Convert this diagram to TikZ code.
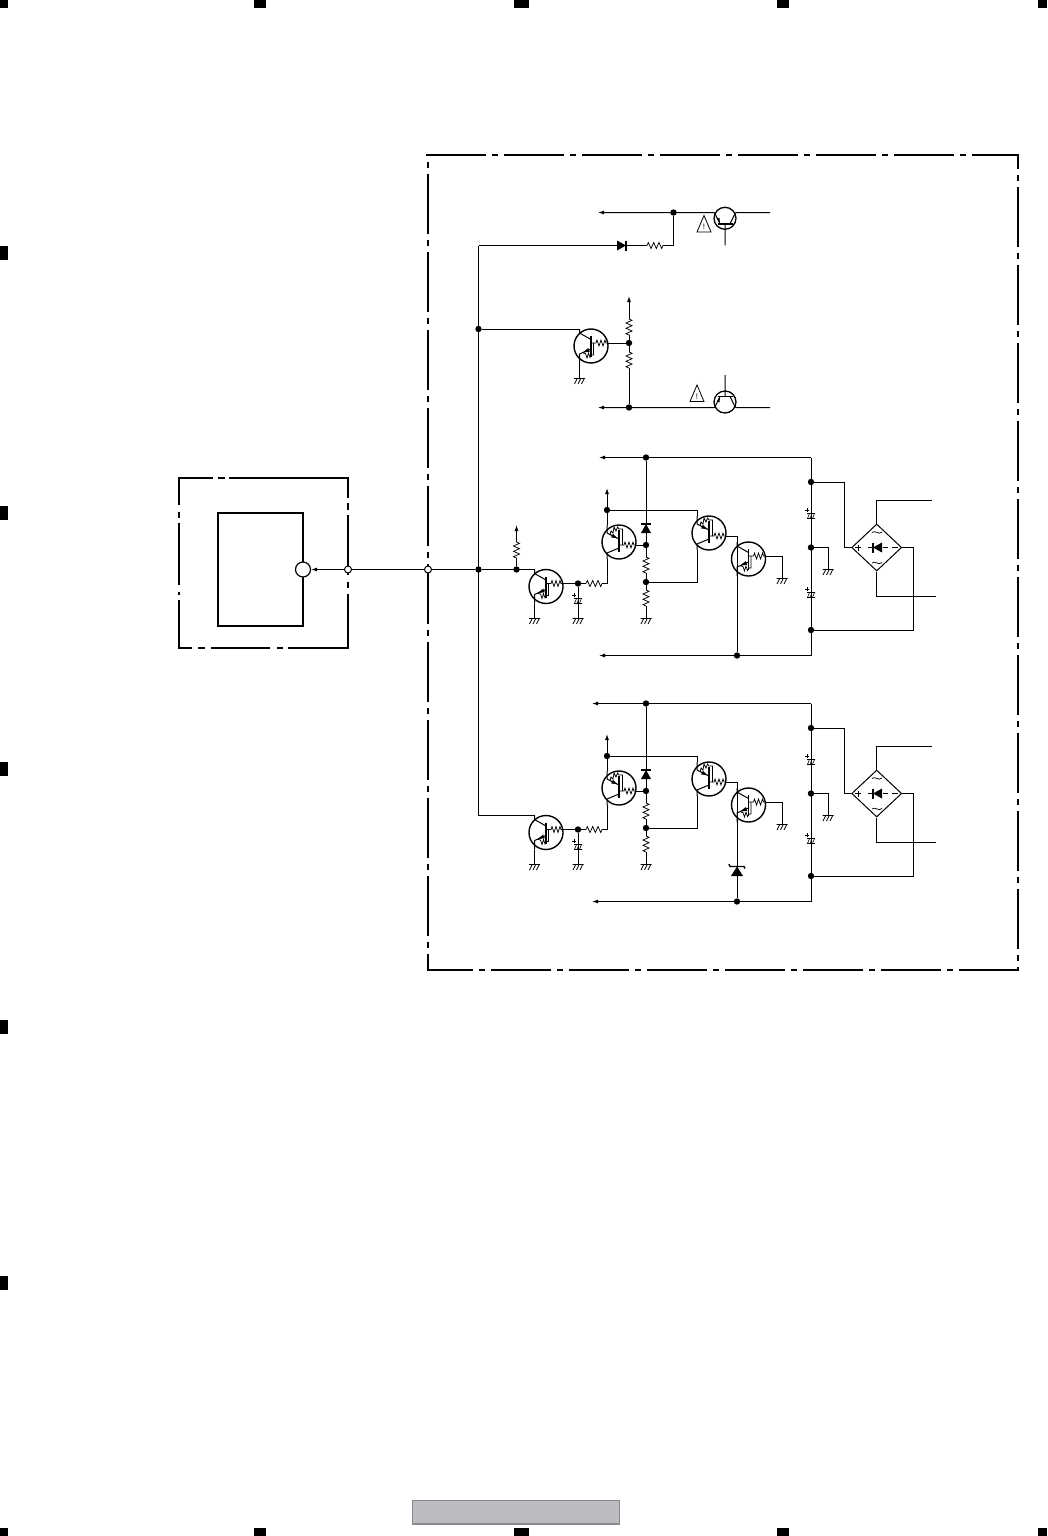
\documentclass[tikz,border=0pt]{standalone}
\usepackage{fontspec}
\setmainfont{Liberation Sans}
\usetikzlibrary{arrows.meta,shapes.geometric}
\tikzset{
  wire/.style={line width=1pt,line join=miter},
  thinw/.style={line width=.75pt,line join=miter},
  framew/.style={line width=2pt,line cap=butt},
  bigdash/.style={framew,dash pattern=on 60pt off 6pt on 6pt off 6pt},
  arr/.style={wire,-{Latex[length=6pt,width=4pt]}},
  dot/.style={circle,fill=black,draw=none,minimum size=6.4pt,inner sep=0pt},
  port/.style={circle,fill=white,draw=black,line width=1pt,minimum size=7pt,inner sep=0pt},
  bigport/.style={circle,fill=white,draw=black,line width=1.2pt,minimum size=15pt,inner sep=0pt},
  qcirc/.style={circle,fill=white,draw=black,line width=1.4pt,minimum size=34pt,inner sep=0pt},
  scirc/.style={circle,fill=white,draw=black,line width=1.3pt,minimum size=22pt,inner sep=0pt},
  bridge/.style={diamond,draw=black,line width=1pt,minimum width=50pt,minimum height=47pt,aspect=1.06,inner sep=0pt},
  warnmark/.style={font=\fontsize{8}{8}\selectfont,inner sep=0pt},
  ressym/.pic={\draw[thinw] (0,0)--(1.3,-3)--(4,3)--(6.7,-3)--(9.3,3)--(12,-3)--(14.7,3)--(16,0);},
  gndsym/.pic={\draw[thinw] (-5.5,0)--(5.5,0) (-2.5,0.5)--(-5,5.5) (1,0.5)--(-1.5,5.5) (4.5,0.5)--(2,5.5);},
  capsym/.pic={\draw[line width=.6pt] (-4,-2.5)--(4,-2.5) (-4,2.5)--(4,2.5) (-1.5,-2.5)--(-3.5,2.5) (1,-2.5)--(-1,2.5) (3.5,-2.5)--(1.5,2.5);
     \draw[line width=.6pt] (-6,-6)--(-2,-6) (-4,-8)--(-4,-4);},
  diodesym/.pic={\fill (0,-5)--(9,0)--(0,5)--cycle; \draw[line width=1.4pt] (9,-5)--(9,5);},
  zenersym/.pic={\fill (0,-6)--(9.5,0)--(0,6)--cycle; \draw[line width=1.4pt] (12,-8)--(9.5,-7)--(9.5,7)--(7.5,8);},
  dtrA/.pic={
    \node[qcirc] (-body) at (0,0) {};
    \coordinate (-c) at (-11.5,-17); \coordinate (-e) at (-11.5,17); \coordinate (-b) at (17,-3);
    \draw[wire] (-c)--(-11.5,-13)--(0,-6.5);
    \draw[wire] (0,3)--(-11.5,8)--(-e);
    \fill (-8.5,6.6)--(-2.8,2.1)--(-1.2,5.7)--cycle;
    \draw[line width=1.5pt] (0,-10)--(0,11);
    \draw[thinw] (0,-3)--(5,-3)--(6,-6)--(8,0)--(10,-6)--(12,0)--(14,-6)--(15,-3)--(-b);
    \draw[thinw] (2.5,-3)--(2.5,9)--(0.5,9)--(-1,11.5)--(-2.5,7)--(-4,12)--(-5.5,7.5)--(-8,7);
  },
  dtrB/.pic={
    \node[qcirc] (-body) at (0,0) {};
    \coordinate (-c) at (-12,-17); \coordinate (-e) at (-12,17); \coordinate (-b) at (17,3);
    \draw[wire] (-c)--(-12,-9)--(0,-3);
    \draw[wire] (0,6)--(-12,11)--(-e);
    \fill (-1.5,-3.7)--(-7.9,-4.6)--(-6.1,-8.2)--cycle;
    \draw[line width=1.5pt] (0,-12)--(0,10);
    \draw[thinw] (-9,-7)--(-8,-11)--(-6,-9)--(-5,-15)--(-3,-11)--(-1.5,-15)--(0,-13)--(3.5,-13)--(3.5,3);
    \draw[thinw] (0,3)--(5,3)--(6,0)--(8,6)--(10,0)--(12,6)--(14,0)--(15,3)--(-b);
  },
  bjtsym/.pic={
    \node[scirc] (-body) at (0,0) {};
    \coordinate (-l) at (-10.5,-5.7); \coordinate (-r) at (10.5,-5.7); \coordinate (-b) at (0,27);
    \draw[wire] (-l)--(-5,5.5) (-r)--(5,5.5) (0,5.5)--(-b);
    \draw[line width=1.5pt] (-7.5,5.5)--(7.5,5.5);
    \fill (-5,4.2)--(-8.2,0.6)--(-5.6,-0.6)--cycle;
  },
  warnsym/.pic={
    \draw[line width=.8pt,fill=white] (-7,8)--(0,-8.5)--(7,8)--cycle;
    \node[warnmark] at (0,3.2) {!};
  },
}
\newcommand\stage[1]{%
  \coordinate (tl) at (#1,457.5); \coordinate (tr) at (811,457.5);
  \coordinate (bl) at (#1,655.5); \coordinate (br) at (811,655.5);
  \draw[arr] (tr)--(tl);
  \draw[arr] (br)--(bl);
  \draw[wire] (tr)--(br);
  \node[dot] (tm) at (646,457.5) {};
  \node[dot] (bm) at (737,655.5) {};
  % transistors
  \pic (QA) at (546,586.5) {dtrA};
  \pic (QB) at (619,542) {dtrB};
  \pic (QC) at (709,533) {dtrB};
  \pic (QD) at (748.5,559) {dtrA};
  \node[dot] (jb) at (578,583.5) {};
  \node[dot] (jc) at (607,510) {};
  \node[dot] (jd) at (646,545) {};
  \node[dot] (je) at (646,582) {};
  % grounds
  \coordinate (ga) at (534.5,618.5); \coordinate (gb) at (578,618.5);
  \coordinate (gc) at (646,618.5); \coordinate (gd) at (782,578.5);
  \pic at (ga) {gndsym}; \pic at (gb) {gndsym}; \pic at (gc) {gndsym}; \pic at (gd) {gndsym};
  \draw[wire] (QA-e)--(ga);
  \draw[wire] (QA-b)--(jb);
  \draw[wire] (jb)--(gb);
  \pic at (578,601) {capsym};
  % base resistor of QB
  \coordinate (r1a) at (586,583.5); \coordinate (r1b) at (602,583.5);
  \pic at (r1a) {ressym};
  \draw[wire] (jb)--(r1a);
  \draw[wire] (r1b)-|(QB-e);
  % supply arrow
  \coordinate (vc) at (607,488);
  \draw[arr] (jc)--(vc);
  \draw[wire] (jc)--(QB-c);
  \draw[wire] (jc)-|(QC-c);
  % diode and divider
  \draw[wire] (tm)--(jd);
  \pic[rotate=90] at (646,533) {diodesym};
  \draw[wire] (QB-b)--(jd);
  \coordinate (r2a) at (646,557); \coordinate (r2b) at (646,573);
  \coordinate (r3a) at (646,590); \coordinate (r3b) at (646,606);
  \pic[rotate=-90] at (r2a) {ressym};
  \pic[rotate=-90] at (r3a) {ressym};
  \draw[wire] (jd)--(r2a);
  \draw[wire] (r2b)--(je);
  \draw[wire] (je)--(r3a);
  \draw[wire] (r3b)--(gc);
  \draw[wire] (je)-|(QC-e);
  % output pair
  \draw[wire] (QC-b)-|(bm);
  \draw[wire] (QD-b)-|(gd);
  % rectifier and filter
  \node[dot] (jt) at (811,482) {};
  \node[dot] (jm) at (811,547.5) {};
  \node[dot] (jl) at (811,630) {};
  \pic at (811,516) {capsym};
  \pic at (811,595) {capsym};
  \coordinate (gm) at (828,569.5);
  \pic at (gm) {gndsym};
  \draw[wire] (jm)-|(gm);
  \node[bridge] (br1) at (876.7,547.5) {};
  \coordinate (bw) at (844,547.5);
  \coordinate (be) at (913,547.5);
  \coordinate (ot) at (932,500.5);
  \coordinate (ob) at (936,596);
  \draw[wire] (jt)-|(bw)--(br1.west);
  \draw[wire] (br1.north)|-(ot);
  \draw[wire] (br1.south)|-(ob);
  \draw[wire] (br1.east)--(be)|-(jl);
  \pic[xscale=-1] at (882,547.5) {diodesym};
  \draw[thinw] (855,547.5)--(861,547.5) (858,544.5)--(858,550.5)
     (868,547.5)--(873,547.5) (883,547.5)--(888,547.5) (892,547.5)--(898,547.5);
  \draw[thinw] (872,532.5) .. controls (874.5,529.5) and (879,535.5) .. (882,532);
  \draw[thinw] (872,563) .. controls (874.5,560) and (879,566) .. (882,562.5);
  \coordinate (cin) at (478.5,569.5);
}
\begin{document}
\begin{tikzpicture}[x=1pt,y=-1pt]
\useasboundingbox (0,0) rectangle (1047,1536);
% registration marks
\foreach \a/\b in {0/8,254/266,514/529,777/789,1038/1047}{
  \fill (\a,0) rectangle (\b,8);
  \fill (\a,1528) rectangle (\b,1536);
}
\foreach \a/\b in {246/260,506/520,762/776,1020/1034,1276/1290}{
  \fill (0,\a) rectangle (8,\b);
}
% footer box
\node[draw=none,fill=none,inner sep=0pt,minimum size=0pt] (ftA) at (412.5,1500.5) {};
\node[draw=none,fill=none,inner sep=0pt,minimum size=0pt] (ftB) at (619.5,1524) {};
\draw[fill={rgb,255:red,187;green,188;blue,192},draw={rgb,255:red,136;green,137;blue,142},line width=1.3pt] (ftA) rectangle (ftB);
% large dash-dot frame
\coordinate (fa) at (427,155); \coordinate (fb) at (1018.5,155);
\coordinate (fc) at (1018.5,970.5); \coordinate (fd) at (427,970.5);
\draw[bigdash,dash phase=0pt] (426,155)--(fb);
\draw[bigdash,dash phase=59pt] (428,155)--(428,970.5);
\draw[bigdash,dash phase=46pt] (1018,155)--(1018,970.5);
\draw[bigdash,dash phase=14pt] (427,970)--(1019,970);
% small dash-dot frame
\foreach \xa/\ya/\xb/\yb in {
  179/478/213/478, 218/478/225/478, 229/478/349/478,
  179/648/192/648, 198/648/205/648, 211/648/270/648, 277/648/283/648, 288/648/349/648,
  179/477/179/505, 179/512/179/518, 179/523/179/585, 179/592/179/595, 179/600/179/649,
  348/477/348/498, 348/503/348/510, 348/515/348/575, 348/582/348/588, 348/594/348/649}{
  \draw[framew] (\xa,\ya)--(\xb,\yb);
}
% inner box
\draw[line width=2pt] (218,513) rectangle (303,626);
% input line
\node[bigport] (p0) at (303,569.5) {};
\node[port] (p1) at (348,569.5) {};
\node[port] (p2) at (428,569.5) {};
\node[dot] (ja) at (478.5,569.5) {};
\node[dot] (jq) at (478.5,329) {};
\coordinate (jtop) at (478.5,245.5);
\draw[arr] (p1)--(p0);
\draw[wire] (p1)--(p2);
\draw[wire] (p2)--(ja);
% top branch: diode, resistor, T1
\coordinate (d1a) at (617,245.5);
\coordinate (r5a) at (647,245.5); \coordinate (r5b) at (663,245.5);
\node[dot] (jr) at (673.5,212.5) {};
\coordinate (w1) at (598,212.5); \coordinate (e1) at (770,212.5);
\coordinate (w2) at (598,407.5); \coordinate (e2) at (770,407.5);
\draw[wire] (jtop)--(d1a);
\pic at (d1a) {diodesym};
\draw[wire] (d1a)--(r5a);
\pic at (r5a) {ressym};
\draw[wire] (r5b)-|(jr);
\pic (T1) at (725,218.3) {bjtsym};
\draw[arr] (T1-l)--(w1);
\draw[wire] (T1-r)--(e1);
\pic at (704,224) {warnsym};
% second branch: Q1 and T2
\pic (Q1) at (591,346) {dtrA};
\draw[wire] (jq)-|(Q1-c);
\coordinate (g1) at (579.5,378.5);
\pic at (g1) {gndsym};
\draw[wire] (Q1-e)--(g1);
\node[dot] (js) at (629,343) {};
\node[dot] (ju) at (629,407.5) {};
\draw[wire] (Q1-b)--(js);
\coordinate (r6a) at (629,335); \coordinate (r6b) at (629,319);
\coordinate (r7a) at (629,352); \coordinate (r7b) at (629,368);
\coordinate (v1) at (629,296);
\pic[rotate=90] at (r6a) {ressym};
\pic[rotate=-90] at (r7a) {ressym};
\draw[wire] (js)--(r6a);
\draw[arr] (r6b)--(v1);
\draw[wire] (js)--(r7a);
\draw[wire] (r7b)--(ju);
\pic[yscale=-1] (T2) at (725,402) {bjtsym};
\draw[arr] (T2-l)--(w2);
\draw[wire] (T2-r)--(e2);
\pic at (697,393.5) {warnsym};
% upper stage
\begin{scope}[name prefix=U-]
  \stage{599}
  \draw[wire] (ja)--(QA-c|-ja);
  \node[dot] (jv) at (516.5,569.5) {};
  \coordinate (r8a) at (516.5,558); \coordinate (r8b) at (516.5,542);
  \coordinate (v2) at (516.5,525);
  \pic[rotate=90] at (r8a) {ressym};
  \draw[wire] (jv)--(r8a);
  \draw[arr] (r8b)--(v2);
\end{scope}
% lower stage
\begin{scope}[shift={(0,246)},name prefix=L-]
  \stage{592}
  \draw[wire] (cin)--(QA-c|-cin);
  \pic[rotate=90] at (737,630) {zenersym};
\end{scope}
% main bus
\draw[wire] (jtop)--(L-cin);
\end{tikzpicture}
\end{document}
